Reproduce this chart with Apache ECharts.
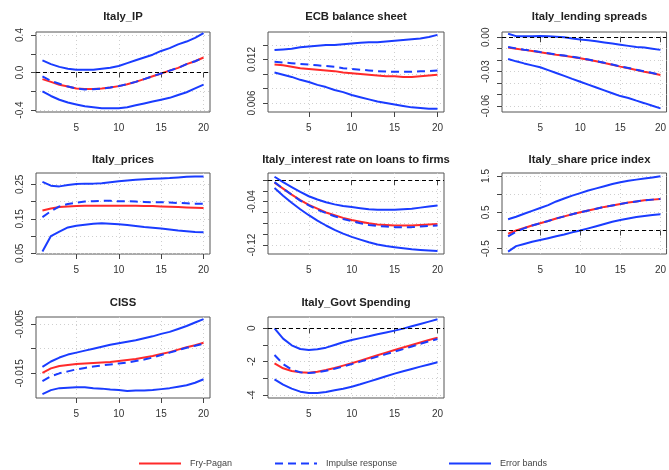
<!DOCTYPE html>
<html>
<head>
<meta charset="utf-8">
<script src="https://cdn.jsdelivr.net/npm/echarts@6/dist/echarts.min.js"></script>
<style>html,body{margin:0;padding:0;background:#fff;}#chart{width:669px;height:470px;}</style>
</head>
<body>
<div id="chart"></div>
<script>
// ---------- data ----------
const horizon = [1,2,3,4,5,6,7,8,9,10,11,12,13,14,15,16,17,18,19,20];
const xTicks = [5,10,15,20];

const titles = ['Italy_IP','ECB balance sheet','Italy_lending spreads','Italy_prices','Italy_interest rate on loans to firms','Italy_share price index','CISS','Italy_Govt Spending'];
const legendNames = ['Fry-Pagan','Impulse response','Error bands'];

// Italy_IP
const ipFP    = [-0.07,-0.10,-0.13,-0.15,-0.17,-0.175,-0.175,-0.17,-0.16,-0.145,-0.125,-0.10,-0.07,-0.04,-0.01,0.02,0.05,0.09,0.12,0.16];
const ipIR    = [-0.04,-0.09,-0.12,-0.15,-0.17,-0.18,-0.178,-0.172,-0.16,-0.145,-0.125,-0.10,-0.07,-0.04,-0.01,0.02,0.05,0.09,0.12,0.16];
const ipUp    = [0.13,0.09,0.06,0.04,0.03,0.03,0.03,0.04,0.05,0.07,0.10,0.13,0.16,0.19,0.23,0.26,0.30,0.33,0.37,0.42];
const ipLo    = [-0.20,-0.25,-0.29,-0.32,-0.34,-0.36,-0.37,-0.38,-0.38,-0.38,-0.37,-0.35,-0.33,-0.31,-0.29,-0.27,-0.24,-0.21,-0.17,-0.13];
const ipTicks = [-0.4,-0.2,0,0.2,0.4];
const ipLabels = [-0.4,0,0.4];

// ECB balance sheet
const ecbFP   = [0.0113,0.0112,0.0110,0.0108,0.0107,0.0106,0.0105,0.0104,0.0102,0.0101,0.0100,0.0099,0.0098,0.0097,0.0097,0.0096,0.0096,0.0097,0.0098,0.0099];
const ecbIR   = [0.0117,0.0116,0.0115,0.0114,0.0113,0.0112,0.0111,0.0110,0.0108,0.0107,0.0106,0.0105,0.0104,0.01035,0.0103,0.0103,0.0103,0.0104,0.0104,0.0105];
const ecbUp   = [0.0133,0.0134,0.0135,0.0137,0.0138,0.0139,0.0140,0.0140,0.0141,0.0142,0.0143,0.0144,0.0144,0.0145,0.0146,0.0147,0.0148,0.0149,0.0151,0.0154];
const ecbLo   = [0.0102,0.0099,0.0096,0.0092,0.0089,0.0085,0.0082,0.0078,0.0075,0.0071,0.0068,0.0065,0.0062,0.0060,0.0058,0.0056,0.0054,0.0053,0.0052,0.0052];
const ecbTicks = [0.006,0.008,0.010,0.012,0.014];
const ecbLabels = [0.006,0.012];

// Italy_lending spreads
const lsFP    = [-0.0090,-0.0100,-0.0110,-0.0120,-0.0131,-0.0141,-0.0152,-0.0162,-0.0172,-0.0183,-0.0196,-0.0210,-0.0225,-0.0240,-0.0256,-0.0270,-0.0285,-0.0300,-0.0314,-0.0329];
const lsIR    = [-0.0085,-0.0097,-0.0108,-0.0118,-0.0129,-0.0139,-0.0150,-0.0160,-0.0170,-0.0181,-0.0194,-0.0208,-0.0223,-0.0238,-0.0254,-0.0268,-0.0283,-0.0298,-0.0312,-0.0327];
const lsUp    = [0.003,0.001,0.0008,0.001,0.0012,0.001,0.0005,0.0,-0.001,-0.002,-0.0025,-0.0035,-0.0045,-0.0055,-0.0065,-0.0075,-0.0085,-0.009,-0.010,-0.011];
const lsLo    = [-0.019,-0.021,-0.0228,-0.0245,-0.0262,-0.0287,-0.0312,-0.0337,-0.0363,-0.0388,-0.0413,-0.0438,-0.0463,-0.0488,-0.0513,-0.053,-0.0553,-0.0575,-0.0598,-0.062];
const lsTicks = [-0.06,-0.05,-0.04,-0.03,-0.02,-0.01,0];
const lsLabels = [-0.06,-0.03,0];

// Italy_prices
const prFP    = [0.174,0.180,0.184,0.186,0.187,0.188,0.188,0.188,0.188,0.188,0.188,0.188,0.187,0.187,0.186,0.185,0.184,0.183,0.182,0.181];
const prIR    = [0.155,0.172,0.186,0.193,0.197,0.200,0.201,0.202,0.202,0.201,0.201,0.200,0.199,0.198,0.198,0.197,0.196,0.195,0.194,0.194];
const prUp    = [0.257,0.246,0.244,0.248,0.251,0.252,0.252,0.253,0.256,0.259,0.261,0.263,0.265,0.266,0.267,0.268,0.270,0.272,0.273,0.273];
const prLo    = [0.055,0.100,0.113,0.125,0.130,0.133,0.136,0.137,0.136,0.134,0.132,0.129,0.126,0.124,0.122,0.119,0.116,0.114,0.112,0.111];
const prTicks = [0.05,0.10,0.15,0.20,0.25];
const prLabels = [0.05,0.15,0.25];

// Italy_interest rate on loans to firms
const irFP    = [-0.005,-0.016,-0.027,-0.037,-0.046,-0.053,-0.060,-0.065,-0.070,-0.074,-0.077,-0.080,-0.082,-0.083,-0.084,-0.084,-0.084,-0.083,-0.082,-0.081];
const irIR    = [-0.004,-0.016,-0.027,-0.038,-0.047,-0.055,-0.061,-0.067,-0.072,-0.076,-0.080,-0.083,-0.085,-0.086,-0.087,-0.087,-0.087,-0.086,-0.085,-0.084];
const irUp    = [0.006,-0.004,-0.013,-0.022,-0.030,-0.036,-0.041,-0.045,-0.048,-0.050,-0.052,-0.054,-0.055,-0.055,-0.055,-0.054,-0.053,-0.051,-0.049,-0.047];
const irLo    = [-0.015,-0.029,-0.042,-0.054,-0.065,-0.075,-0.084,-0.092,-0.099,-0.105,-0.110,-0.115,-0.119,-0.122,-0.124,-0.126,-0.128,-0.129,-0.130,-0.131];
const irTicks = [-0.12,-0.10,-0.08,-0.06,-0.04,-0.02,0];
const irLabels = [-0.12,-0.04];

// Italy_share price index
const spFP    = [-0.09,0.00,0.07,0.14,0.20,0.26,0.33,0.39,0.45,0.50,0.55,0.60,0.65,0.69,0.73,0.77,0.80,0.83,0.85,0.87];
const spIR    = [-0.16,-0.03,0.06,0.14,0.20,0.26,0.33,0.39,0.45,0.50,0.55,0.60,0.65,0.69,0.73,0.77,0.80,0.83,0.85,0.87];
const spUp    = [0.31,0.38,0.46,0.54,0.62,0.70,0.80,0.88,0.96,1.03,1.10,1.16,1.22,1.28,1.33,1.37,1.40,1.43,1.46,1.49];
const spLo    = [-0.58,-0.43,-0.37,-0.31,-0.26,-0.21,-0.16,-0.11,-0.05,0.00,0.06,0.12,0.18,0.24,0.29,0.33,0.37,0.40,0.43,0.45];
const spTicks = [-0.5,0,0.5,1.0,1.5];
const spLabels = [-0.5,0.5,1.5];

// CISS
const ciFP    = [-0.0149,-0.0140,-0.0135,-0.0133,-0.0131,-0.0130,-0.0129,-0.0128,-0.0127,-0.0125,-0.0123,-0.0121,-0.0118,-0.0115,-0.0111,-0.0107,-0.0102,-0.0097,-0.0093,-0.0088];
const ciIR    = [-0.0166,-0.0156,-0.0150,-0.0146,-0.0142,-0.0139,-0.0136,-0.0134,-0.0132,-0.0130,-0.0128,-0.0125,-0.0122,-0.0118,-0.0113,-0.0108,-0.0103,-0.0098,-0.0094,-0.0090];
const ciUp    = [-0.0137,-0.0126,-0.0118,-0.0112,-0.0108,-0.0104,-0.0100,-0.0096,-0.0092,-0.0089,-0.0086,-0.0083,-0.0079,-0.0075,-0.0070,-0.0066,-0.0060,-0.0054,-0.0047,-0.0040];
const ciLo    = [-0.0192,-0.0184,-0.0180,-0.0179,-0.0178,-0.0178,-0.0180,-0.0181,-0.0183,-0.0184,-0.0186,-0.0185,-0.0185,-0.0184,-0.0182,-0.0180,-0.0177,-0.0174,-0.0169,-0.0162];
const ciTicks = [-0.015,-0.010,-0.005];
const ciLabels = [-0.015,-0.005];

// Italy_Govt Spending
const gsFP    = [-2.10,-2.40,-2.56,-2.64,-2.66,-2.60,-2.50,-2.38,-2.24,-2.10,-1.94,-1.78,-1.62,-1.46,-1.30,-1.15,-1.00,-0.85,-0.70,-0.56];
const gsIR    = [-1.60,-2.14,-2.48,-2.64,-2.68,-2.64,-2.55,-2.43,-2.29,-2.15,-2.00,-1.85,-1.70,-1.55,-1.40,-1.25,-1.09,-0.93,-0.78,-0.64];
const gsUp    = [0.00,-0.62,-1.02,-1.24,-1.30,-1.26,-1.16,-1.00,-0.84,-0.70,-0.59,-0.48,-0.36,-0.25,-0.14,-0.02,0.12,0.26,0.40,0.54];
const gsLo    = [-3.06,-3.38,-3.62,-3.80,-3.88,-3.88,-3.82,-3.72,-3.62,-3.50,-3.36,-3.20,-3.04,-2.88,-2.72,-2.58,-2.44,-2.30,-2.17,-2.04];
const gsTicks = [-4,-3,-2,-1,0];
const gsLabels = [-4,-2,0];

// ---------- layout / style ----------
const panels = [
  {fp: ipFP, ir: ipIR, up: ipUp, lo: ipLo, ticks: ipTicks, labels: ipLabels, dec: 1, min: -0.421, max: 0.432, zero: true},
  {fp: ecbFP, ir: ecbIR, up: ecbUp, lo: ecbLo, ticks: ecbTicks, labels: ecbLabels, dec: 3, min: 0.00476, max: 0.0158, zero: false},
  {fp: lsFP, ir: lsIR, up: lsUp, lo: lsLo, ticks: lsTicks, labels: lsLabels, dec: 2, min: -0.0652, max: 0.0046, zero: true},
  {fp: prFP, ir: prIR, up: prUp, lo: prLo, ticks: prTicks, labels: prLabels, dec: 2, min: 0.048, max: 0.2828, zero: false},
  {fp: irFP, ir: irIR, up: irUp, lo: irLo, ticks: irTicks, labels: irLabels, dec: 2, min: -0.1366, max: 0.0129, zero: true},
  {fp: spFP, ir: spIR, up: spUp, lo: spLo, ticks: spTicks, labels: spLabels, dec: 1, min: -0.6458, max: 1.5825, zero: true},
  {fp: ciFP, ir: ciIR, up: ciUp, lo: ciLo, ticks: ciTicks, labels: ciLabels, dec: 3, min: -0.0200, max: -0.00358, zero: false},
  {fp: gsFP, ir: gsIR, up: gsUp, lo: gsLo, ticks: gsTicks, labels: gsLabels, dec: 0, min: -4.18, max: 0.678, zero: true}
];
const colLeft = [36, 268, 502];
const colWidth = [174, 176, 175];
const rowTop = [32, 173, 317];
const rowHeight = [80, 81, 81];
const titleY = [17, 160, 303];

const RED = '#ff2a2a';
const BLUE = '#1a3cff';
const FONT = '"Liberation Sans", Arial, Helvetica, sans-serif';

const pairs = arr => horizon.map((h, i) => [h, arr[i]]);

const grids = [], xAxes = [], yAxes = [], series = [], graphics = [];
panels.forEach((p, k) => {
  const r = Math.floor(k / 3), c = k % 3;
  grids.push({left: colLeft[c], top: rowTop[r], width: colWidth[c], height: rowHeight[r],
    show: true, borderColor: '#555', borderWidth: 1, backgroundColor: 'transparent'});
  xAxes.push({type: 'value', gridIndex: k, min: 0.24, max: 20.76,
    axisLine: {show: false},
    axisTick: {show: true, length: 5, customValues: xTicks, lineStyle: {color: '#444'}},
    axisLabel: {customValues: xTicks, margin: 11, fontSize: 10, color: '#333', fontFamily: FONT},
    splitLine: {show: true, lineStyle: {color: '#cfcfcf', type: [1, 3], width: 1}}
  });
  yAxes.push({type: 'value', gridIndex: k, min: p.min, max: p.max,
    axisLine: {show: false},
    axisTick: {show: true, length: 5, customValues: p.ticks, lineStyle: {color: '#444'}},
    axisLabel: {customValues: p.labels, rotate: 90, margin: 11, fontSize: 10, color: '#333', fontFamily: FONT,
      formatter: v => Number(v).toFixed(p.dec)},
    splitLine: {show: true, lineStyle: {color: '#cfcfcf', type: [1, 3], width: 1}}
  });
  const base = {type: 'line', xAxisIndex: k, yAxisIndex: k, symbol: 'none', showSymbol: false,
    animation: false, silent: true};
  const upper = Object.assign({}, base, {name: 'Error bands', data: pairs(p.up), lineStyle: {color: BLUE, width: 2}, itemStyle: {color: BLUE}});
  if (p.zero) {
    upper.markLine = {silent: true, symbol: 'none', animation: false, label: {show: false},
      lineStyle: {color: '#000', type: [4, 3], width: 1}, data: [{yAxis: 0}]};
  }
  series.push(upper);
  series.push(Object.assign({}, base, {name: 'Error bands', data: pairs(p.lo), lineStyle: {color: BLUE, width: 2}, itemStyle: {color: BLUE}}));
  series.push(Object.assign({}, base, {name: 'Fry-Pagan', data: pairs(p.fp), lineStyle: {color: RED, width: 2}, itemStyle: {color: RED}}));
  series.push(Object.assign({}, base, {name: 'Impulse response', data: pairs(p.ir), lineStyle: {color: BLUE, width: 2, type: [8, 5]}, itemStyle: {color: BLUE}}));
  graphics.push({type: 'text', x: colLeft[c] + colWidth[c] / 2, y: titleY[r], silent: true,
    style: {text: titles[k], textAlign: 'center', textVerticalAlign: 'middle', align: 'center', verticalAlign: 'middle',
      font: 'bold 11.3px ' + FONT, fill: '#222'}});
});

const legendLeft = [138, 274, 448];
const legends = legendNames.map((n, i) => ({
  data: [n], left: legendLeft[i], top: 458, padding: 0, itemWidth: 42, itemHeight: 14, selectedMode: false,
  itemStyle: {opacity: 0, color: 'transparent', borderWidth: 0},
  lineStyle: {opacity: 1},
  textStyle: {fontSize: 9, color: '#444', fontFamily: FONT, padding: [0, 0, 0, 4]}
}));

const chart = echarts.init(document.getElementById('chart'), null, {renderer: 'canvas'});
chart.setOption({
  animation: false,
  backgroundColor: '#fff',
  grid: grids, xAxis: xAxes, yAxis: yAxes, series: series,
  legend: legends, graphic: graphics
});
</script>
</body>
</html>
